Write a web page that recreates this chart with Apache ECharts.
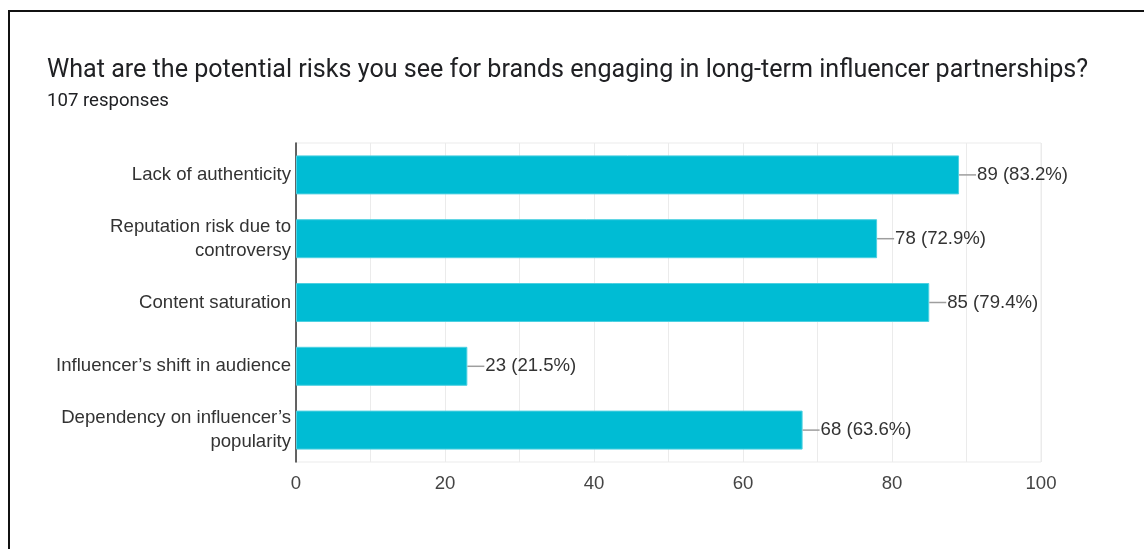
<!DOCTYPE html>
<html>
<head>
<meta charset="utf-8">
<title>Potential risks for brands</title>
<script src="https://cdn.jsdelivr.net/npm/echarts@6/dist/echarts.min.js"></script>
<style>
  html, body { margin: 0; padding: 0; background: #fff; }
  #chart { width: 1144px; height: 549px; }
</style>
</head>
<body>
<div id="chart"></div>
<script>
// chart data
var categories = [
    "Lack of authenticity",
    "Reputation risk due to\ncontroversy",
    "Content saturation",
    "Influencer\u2019s shift in audience",
    "Dependency on influencer\u2019s\npopularity"
];
var counts = [89, 78, 85, 23, 68];
var percents = ["83.2%", "72.9%", "79.4%", "21.5%", "63.6%"];
var xTicks = [0, 20, 40, 60, 80, 100];

var labelFont = "'Liberation Sans', Arial, sans-serif";
var labelSize = 18.6;

var chart = echarts.init(document.getElementById("chart"));

var option = {
    animation: false,
    backgroundColor: "#fff",
    textStyle: { fontFamily: labelFont },
    graphic: [{
        type: "rect",
        shape: { x: 9, y: 11, width: 1300, height: 700 },
        style: { fill: "none", stroke: "#111", lineWidth: 2 },
        silent: true
    }],
    title: [
        {
            text: "What are the potential risks you see for brands engaging in long-term influencer partnerships?",
            left: 42,
            top: 53,
            textStyle: { fontFamily: "Roboto", fontSize: 25.1, fontWeight: "normal", color: "#202124" }
        },
        {
            text: "107 responses",
            left: 42,
            top: 87,
            textStyle: { fontFamily: "Roboto", fontSize: 18.6, fontWeight: "normal", color: "#202124" }
        }
    ],
    grid: {
        left: 296,
        right: 103,
        top: 143,
        bottom: 87,
        show: true,
        borderColor: "#ebebeb",
        borderWidth: 1
    },
    xAxis: {
        type: "value",
        min: 0,
        max: 100,
        interval: 10,
        axisLine: { show: false },
        axisTick: { show: false },
        splitLine: { lineStyle: { color: "#ebebeb", width: 1 } },
        axisLabel: {
            margin: 12,
            fontSize: labelSize,
            fontFamily: labelFont,
            color: "#444",
            formatter: function (v) {
                return xTicks.indexOf(v) >= 0 ? String(v) : "";
            }
        }
    },
    yAxis: {
        type: "category",
        inverse: true,
        data: categories,
        axisLine: { lineStyle: { color: "#333", width: 1.5 } },
        axisTick: { show: false },
        axisLabel: {
            margin: 5,
            fontSize: labelSize,
            fontFamily: labelFont,
            lineHeight: 24,
            color: "#333",
            align: "right"
        }
    },
    series: [{
        type: "bar",
        data: counts,
        barWidth: 39,
        itemStyle: { color: "#00bcd4", borderColor: "#4dd0e1", borderWidth: 1 },
        label: {
            show: true,
            position: "right",
            distance: 0,
            formatter: function (p) {
                return "{l|}{t|" + counts[p.dataIndex] + " (" + percents[p.dataIndex] + ")}";
            },
            rich: {
                l: { width: 17, height: 1.5, backgroundColor: "#9e9e9e" },
                t: { fontSize: labelSize, fontFamily: labelFont, color: "#333", padding: [0, 0, 0, 1] }
            }
        }
    }]
};

chart.setOption(option);
</script>
</body>
</html>
